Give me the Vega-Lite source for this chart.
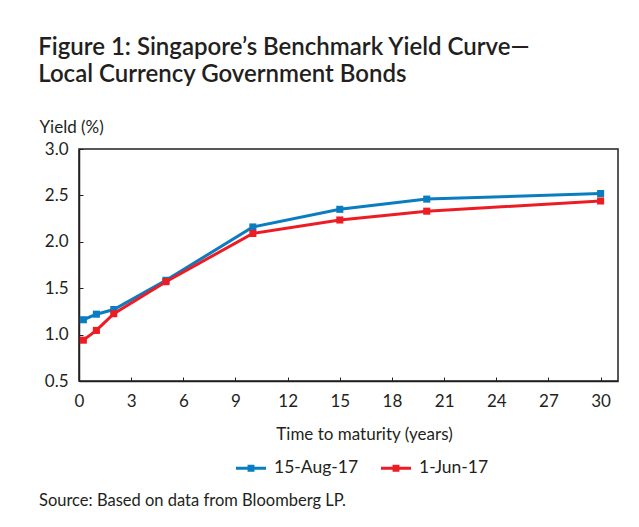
{
  "$schema": "https://vega.github.io/schema/vega-lite/v6.json",
  "padding": {"left": 38, "top": 36, "right": 20, "bottom": 10},
  "background": "white",
  "config": {
    "font": "Lato",
    "view": {"stroke": "#231f20", "strokeWidth": 1.5},
    "axis": {
      "domainColor": "#231f20", "domainWidth": 1.5, "tickColor": "#231f20", "tickWidth": 1,
      "labelColor": "#231f20", "titleColor": "#231f20", "labelFont": "Lato", "titleFont": "Lato",
      "labelFontSize": 17, "titleFontSize": 17, "titleFontWeight": "normal", "grid": false
    },
    "legend": {"labelFont": "Lato", "labelFontSize": 17.5, "labelColor": "#231f20"}
  },
  "title": {
    "text": ["Figure 1: Singapore\u2019s Benchmark Yield Curve\u2014", "Local Currency Government Bonds"],
    "anchor": "start", "fontSize": 24, "fontWeight": 600, "color": "#231f20", "font": "Lato",
    "offset": 30, "lineHeight": 27
  },
  "resolve": {"legend": {"color": "independent"}},
  "vconcat": [
    {
      "width": 539,
      "height": 232,
      "title": {
        "text": "Source: Based on data from Bloomberg LP.",
        "orient": "bottom", "anchor": "start", "fontSize": 16.5, "fontWeight": "normal",
        "color": "#231f20", "font": "Lato", "offset": 16
      },
      "data": {
        "values": [
          {"t": 0.25, "yield": 1.16, "series": "15-Aug-17"},
          {"t": 1, "yield": 1.22, "series": "15-Aug-17"},
          {"t": 2, "yield": 1.27, "series": "15-Aug-17"},
          {"t": 5, "yield": 1.585, "series": "15-Aug-17"},
          {"t": 10, "yield": 2.16, "series": "15-Aug-17"},
          {"t": 15, "yield": 2.35, "series": "15-Aug-17"},
          {"t": 20, "yield": 2.46, "series": "15-Aug-17"},
          {"t": 30, "yield": 2.52, "series": "15-Aug-17"},
          {"t": 0.25, "yield": 0.94, "series": "1-Jun-17"},
          {"t": 1, "yield": 1.045, "series": "1-Jun-17"},
          {"t": 2, "yield": 1.225, "series": "1-Jun-17"},
          {"t": 5, "yield": 1.57, "series": "1-Jun-17"},
          {"t": 10, "yield": 2.09, "series": "1-Jun-17"},
          {"t": 15, "yield": 2.235, "series": "1-Jun-17"},
          {"t": 20, "yield": 2.33, "series": "1-Jun-17"},
          {"t": 30, "yield": 2.44, "series": "1-Jun-17"}
        ]
      },
      "encoding": {
        "x": {
          "field": "t", "type": "quantitative",
          "scale": {"domain": [0, 31], "nice": false, "zero": false},
          "axis": {
            "values": [0, 3, 6, 9, 12, 15, 18, 21, 24, 27, 30],
            "title": "Time to maturity (years)",
            "tickSize": -4, "labelPadding": 16, "titlePadding": 17, "titleX": 285, "labelFlush": false
          }
        },
        "y": {
          "field": "yield", "type": "quantitative",
          "scale": {"domain": [0.5, 3.0], "nice": false, "zero": false},
          "axis": {
            "values": [0.5, 1.0, 1.5, 2.0, 2.5, 3.0], "format": ".1f",
            "title": "Yield (%)", "titleAngle": 0, "titleAlign": "left", "titleBaseline": "alphabetic",
            "titleX": -40, "titleY": -17,
            "tickSize": -4, "labelPadding": 15
          }
        },
        "color": {
          "field": "series", "type": "nominal",
          "scale": {"domain": ["15-Aug-17", "1-Jun-17"], "range": ["#0a7dc1", "#ed1c24"]},
          "legend": {
            "title": null, "orient": "none", "direction": "horizontal",
            "legendX": 157, "legendY": 304,
            "symbolType": "M-1,-0.1H1V0.1H-1Z M-0.23,-0.23H0.23V0.23H-0.23Z",
            "symbolSize": 900, "symbolStrokeWidth": 0, "labelOffset": 8, "columnPadding": 22,
            "encode": {"symbols": {"update": {"fill": {"scale": "color", "field": "value"}, "strokeWidth": {"value": 0}}}}
          }
        }
      },
      "layer": [
        {
          "transform": [{"filter": "datum.series === '15-Aug-17'"}],
          "mark": {"type": "line", "strokeWidth": 3, "point": {"shape": "square", "size": 50, "filled": true, "opacity": 1}}
        },
        {
          "transform": [{"filter": "datum.series === '1-Jun-17'"}],
          "mark": {"type": "line", "strokeWidth": 3, "point": {"shape": "square", "size": 50, "filled": true, "opacity": 1}}
        }
      ]
    }
  ]
}
